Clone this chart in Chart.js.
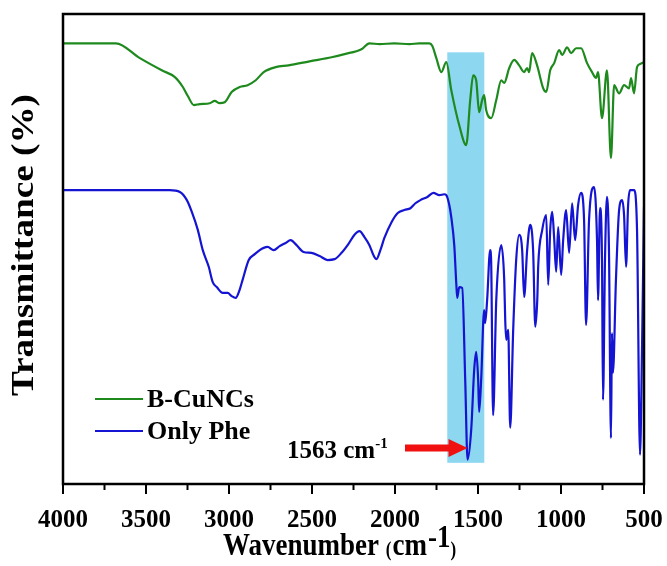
<!DOCTYPE html>
<html lang="en">
<head>
    <meta charset="UTF-8">
    <title>FTIR spectra</title>
    <script src="https://cdn.jsdelivr.net/npm/chart.js"></script>
    <style>
        html, body { margin: 0; padding: 0; background: #fff; }
        #wrap { width: 667px; height: 566px; }
    </style>
</head>
<body>
    <div id="wrap"><canvas id="ftirChart"></canvas></div>

    <script>
        // wavenumber ticks
        const xTicks = [4000, 3500, 3000, 2500, 2000, 1500, 1000, 500];

        // B-CuNCs (green)
        const greenWn = [4000, 3681, 3537, 3405, 3326, 3278, 3248, 3212, 3176, 3116, 3086, 3056, 3026, 2984, 2936, 2888, 2839, 2791, 2719, 2641, 2515, 2382, 2304, 2202, 2154, 2094, 2004, 1913, 1853, 1793, 1775, 1751, 1721, 1691, 1661, 1613, 1571, 1547, 1529, 1511, 1493, 1475, 1463, 1451, 1420, 1390, 1360, 1342, 1312, 1282, 1252, 1222, 1204, 1192, 1174, 1144, 1107, 1089, 1065, 1041, 1011, 993, 963, 939, 909, 879, 843, 813, 789, 777, 753, 723, 699, 680, 650, 620, 590, 578, 560, 542, 524, 500];
        const greenT = [93.1, 93.1, 89.8, 87.1, 85.6, 83.4, 81.4, 79.4, 79.6, 79.8, 80.3, 79.8, 80.0, 82.3, 83.4, 83.8, 84.9, 86.7, 87.8, 88.2, 89.1, 90.0, 90.7, 91.8, 93.1, 92.9, 93.1, 92.9, 93.1, 93.1, 92.5, 89.8, 86.7, 88.9, 82.7, 74.9, 70.5, 80.5, 86.0, 84.9, 77.8, 80.5, 81.6, 78.3, 76.5, 80.5, 84.9, 84.3, 87.6, 89.4, 88.2, 86.7, 87.6, 86.7, 90.9, 88.2, 83.1, 82.3, 87.1, 88.7, 91.6, 90.5, 92.2, 90.9, 92.0, 92.0, 88.7, 86.7, 85.4, 86.7, 76.5, 87.1, 67.6, 83.8, 82.0, 83.8, 83.1, 85.4, 82.0, 87.8, 88.5, 88.9];

        // Only Phe (blue)
        const blueWn = [4000, 3357, 3296, 3254, 3224, 3188, 3158, 3122, 3098, 3074, 3038, 3008, 2984, 2960, 2936, 2918, 2881, 2845, 2815, 2791, 2767, 2731, 2695, 2659, 2629, 2593, 2551, 2503, 2454, 2406, 2364, 2322, 2280, 2244, 2214, 2184, 2154, 2130, 2112, 2088, 2064, 2021, 1985, 1943, 1907, 1877, 1847, 1805, 1769, 1733, 1703, 1691, 1673, 1661, 1643, 1631, 1625, 1613, 1595, 1577, 1563, 1541, 1523, 1511, 1499, 1493, 1481, 1463, 1457, 1445, 1427, 1421, 1409, 1390, 1360, 1342, 1336, 1330, 1318, 1306, 1288, 1270, 1252, 1234, 1222, 1204, 1186, 1168, 1155, 1143, 1137, 1113, 1089, 1077, 1065, 1053, 1041, 1029, 1017, 999, 987, 969, 951, 933, 915, 897, 879, 861, 849, 831, 801, 783, 777, 765, 753, 747, 735, 723, 711, 699, 693, 687, 669, 650, 632, 620, 608, 596, 584, 560, 542, 524, 512, 500];
        const blueT = [60.5, 60.5, 60.1, 58.3, 55.7, 51.7, 47.2, 43.5, 40.1, 39.0, 37.7, 37.7, 37.0, 36.6, 38.4, 40.6, 45.0, 46.3, 47.2, 47.7, 47.9, 47.2, 48.1, 48.8, 49.4, 48.3, 46.8, 46.6, 45.9, 45.0, 45.2, 46.6, 48.6, 50.6, 51.4, 50.1, 48.3, 46.1, 45.2, 47.2, 49.9, 53.4, 55.4, 56.1, 56.5, 57.6, 58.3, 59.0, 59.9, 59.4, 59.6, 59.4, 57.2, 54.5, 48.3, 39.9, 36.6, 39.0, 38.8, 18.4, 0.7, 7.3, 20.6, 24.6, 18.4, 11.3, 18.4, 33.9, 31.0, 36.1, 47.2, 45.0, 10.6, 36.1, 48.3, 40.6, 31.7, 27.3, 29.5, 7.8, 29.5, 45.0, 50.6, 47.2, 36.8, 47.2, 52.8, 47.2, 30.2, 36.1, 43.9, 51.7, 55.0, 39.5, 51.7, 55.7, 49.7, 42.4, 52.3, 41.7, 49.4, 56.1, 46.6, 57.6, 49.4, 57.2, 59.9, 53.9, 30.6, 53.9, 61.2, 49.4, 36.1, 56.5, 45.0, 14.0, 45.0, 59.0, 47.2, 5.5, 28.8, 20.0, 40.6, 56.1, 58.3, 54.9, 43.5, 57.0, 60.5, 60.5, 51.7, 1.8, 25.1, 56.8];

        // highlighted region and marked peak
        const bandWn = [1685, 1462];
        const bandTop = 91.1;
        const peakWn = 1563;
        const peakLabel = '1563 cm';

        const seriesNames = ['B-CuNCs', 'Only Phe'];
        const seriesColors = ['#1e8a1e', '#1414d2'];

        const serif = '"Liberation Serif", "Times New Roman", serif';

        function toPoints(xs, ys) {
            return xs.map((x, i) => ({ x: x, y: ys[i] }));
        }

        const decorPlugin = {
            id: 'decor',
            beforeDatasetsDraw(chart) {
                const { ctx, scales: { x, y } } = chart;
                const x1 = x.getPixelForValue(bandWn[0]);
                const x2 = x.getPixelForValue(bandWn[1]);
                const yTop = y.getPixelForValue(bandTop);
                const yBot = y.getPixelForValue(0);
                ctx.save();
                ctx.fillStyle = '#8dd7f1';
                ctx.fillRect(x1, yTop, x2 - x1, yBot - yTop);
                ctx.restore();
            },
            afterDraw(chart) {
                const { ctx, chartArea: a, scales: { x, y } } = chart;
                ctx.save();

                // frame
                ctx.strokeStyle = '#000';
                ctx.lineWidth = 2.5;
                ctx.strokeRect(a.left, a.top, a.right - a.left, a.bottom - a.top);

                // x ticks, major every 500 and minor every 250
                ctx.lineWidth = 2;
                x.ticks.forEach(t => {
                    const px = x.getPixelForValue(t.value);
                    const len = t.value % 500 === 0 ? 10 : 6;
                    ctx.beginPath();
                    ctx.moveTo(px, a.bottom);
                    ctx.lineTo(px, a.bottom + len);
                    ctx.stroke();
                });

                ctx.fillStyle = '#000';
                ctx.textBaseline = 'alphabetic';

                // x title
                ctx.save();
                ctx.translate(223, 555);
                ctx.scale(1, 1.2);
                let cx = 0;
                ctx.font = 'bold 27px ' + serif;
                ctx.fillText('Wavenumber ', cx, 0);
                cx += ctx.measureText('Wavenumber ').width;
                ctx.font = 'bold 17px ' + serif;
                ctx.fillText('(', cx, 1);
                cx += ctx.measureText('(').width + 1;
                ctx.font = 'bold 27px ' + serif;
                ctx.fillText('cm', cx, 0);
                cx += ctx.measureText('cm').width + 1;
                ctx.fillText('-1', cx, -7);
                cx += ctx.measureText('-1').width;
                ctx.font = 'bold 17px ' + serif;
                ctx.fillText(')', cx, 1);
                ctx.restore();

                // y title
                ctx.save();
                ctx.translate(33, 245);
                ctx.rotate(-Math.PI / 2);
                ctx.scale(1.2, 1);
                ctx.font = 'bold 31px ' + serif;
                ctx.textAlign = 'center';
                ctx.fillText('Transmittance (%)', 0, 0);
                ctx.restore();

                // legend
                ctx.font = 'bold 26px ' + serif;
                ctx.lineWidth = 2.2;
                chart.data.datasets.forEach((ds, i) => {
                    const ly = 399 + i * 32;
                    ctx.strokeStyle = ds.borderColor;
                    ctx.beginPath();
                    ctx.moveTo(95, ly);
                    ctx.lineTo(143, ly);
                    ctx.stroke();
                    ctx.fillText(ds.label, 147, ly + 8);
                });

                // peak annotation
                const tip = x.getPixelForValue(peakWn);
                const ay = 448;
                ctx.fillStyle = '#f01010';
                ctx.beginPath();
                ctx.moveTo(405, ay - 3.5);
                ctx.lineTo(tip - 19, ay - 3.5);
                ctx.lineTo(tip - 19, ay - 9);
                ctx.lineTo(tip, ay);
                ctx.lineTo(tip - 19, ay + 9);
                ctx.lineTo(tip - 19, ay + 3.5);
                ctx.lineTo(405, ay + 3.5);
                ctx.closePath();
                ctx.fill();

                ctx.fillStyle = '#000';
                ctx.font = 'bold 25px ' + serif;
                ctx.fillText(peakLabel, 287, 458);
                const w = ctx.measureText(peakLabel).width;
                ctx.font = 'bold 15px ' + serif;
                ctx.fillText('-1', 287 + w, 448);

                ctx.restore();
            }
        };

        const ctx = document.getElementById('ftirChart').getContext('2d');
        new Chart(ctx, {
            type: 'line',
            data: {
                datasets: [
                    {
                        label: seriesNames[0],
                        data: toPoints(greenWn, greenT),
                        borderColor: seriesColors[0],
                        borderWidth: 2.2,
                        pointRadius: 0,
                        cubicInterpolationMode: 'monotone'
                    },
                    {
                        label: seriesNames[1],
                        data: toPoints(blueWn, blueT),
                        borderColor: seriesColors[1],
                        borderWidth: 2.2,
                        pointRadius: 0,
                        cubicInterpolationMode: 'monotone'
                    }
                ]
            },
            options: {
                responsive: true,
                maintainAspectRatio: false,
                animation: false,
                layout: { padding: { left: 63, right: 23, top: 14, bottom: 0 } },
                plugins: {
                    legend: { display: false },
                    tooltip: { enabled: false }
                },
                scales: {
                    x: {
                        type: 'linear',
                        reverse: true,
                        min: xTicks[xTicks.length - 1],
                        max: xTicks[0],
                        grid: { display: false, drawTicks: false },
                        border: { display: false },
                        ticks: {
                            stepSize: 250,
                            autoSkip: false,
                            maxRotation: 0,
                            padding: 22,
                            color: '#000',
                            font: { family: serif, size: 25, weight: 'bold' },
                            callback: v => xTicks.includes(v) ? String(v) : ''
                        },
                        afterFit: s => {
                            s.height = 82;
                            s.paddingLeft = 0;
                            s.paddingRight = 0;
                        }
                    },
                    y: {
                        display: false,
                        min: -4.7,
                        max: 99.6
                    }
                }
            },
            plugins: [decorPlugin]
        });
    </script>
</body>
</html>
